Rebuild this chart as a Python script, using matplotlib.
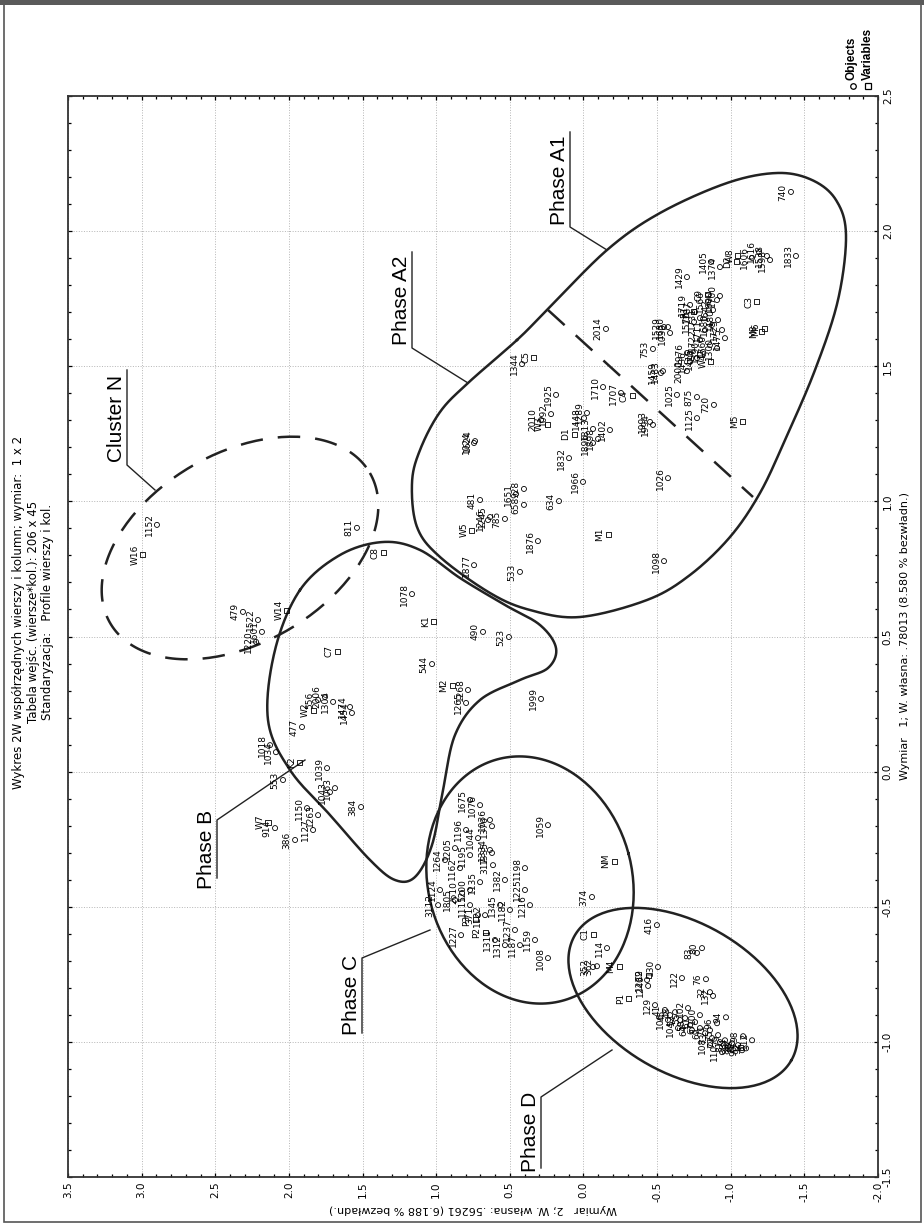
import numpy as np
import matplotlib.pyplot as plt
from matplotlib.lines import Line2D
from matplotlib.patches import Rectangle

# ---- data: objects (rows) ----
obj_labels = ['740', '1833', '1429', '1405', '1374', '1606', '1616', '1538', '1598', '1529',
              '1630', '1030', '753', '1976', '2000', '1719', '1787', '1731', '1600', '1700',
              '1480', '1475', '1300', '1711', '1722', '1760', '1570', '1680', '1390', '1415',
              '1436', '1642', '1566', '1725',
              '1344', '1925', '1092', '2010', '1448', '1289', '1813', '1402', '1896', '1898',
              '1832', '1966', '1710', '1707', '1483', '1459', '1025', '875', '1125', '720',
              '1993', '1994', '2014', '1026', '1098', '1024', '1624', '481', '1246', '1245',
              '785', '928', '1651', '658', '634', '1876', '1877', '533',
              '1152', '811', '479', '1522', '1601', '1220',
              '1078', '490', '523', '544', '1268', '1265', '1999', '556', '2006', '1304',
              '477', '1474', '1454', '1018', '1034', '1039', '553', '1063', '1043', '384',
              '1150', '1263', '914', '386', '1127',
              '1675', '1076', '1036', '1376', '1059', '1196', '1044', '1334', '1335', '1195',
              '1205', '1162', '317', '1198', '1264', '1382', '1135', '1200', '2610', '1124',
              '3112', '1805', '1115', '1345', '1122', '1182', '1237', '1227', '371', '1311',
              '1312', '1008', '374', '1225', '1216', '1187', '1159', '114', '352', '362',
              '416', '80', '83', '130', '1239', '1240', '122', '76', '32', '132', '129',
              '41', '45', '48', '52', '55', '58', '61', '64', '67', '69', '71', '73', '75',
              '77', '79', '81', '84', '86', '88', '90', '92', '94', '96', '98', '100', '102',
              '104', '106', '108', '110', '112']
obj_dim1 = [2.145, 1.908, 1.830, 1.886, 1.867, 1.901, 1.923, 1.908, 1.893, 1.645,
            1.645, 1.623, 1.564, 1.549, 1.482, 1.727, 1.701, 1.678, 1.745, 1.760,
            1.671, 1.604, 1.567, 1.634, 1.597, 1.578, 1.664, 1.653, 1.553, 1.530,
            1.516, 1.708, 1.738, 1.634,
            1.508, 1.394, 1.323, 1.301, 1.308, 1.327, 1.268, 1.264, 1.216, 1.231,
            1.160, 1.072, 1.423, 1.401, 1.482, 1.475, 1.394, 1.386, 1.308, 1.357,
            1.294, 1.283, 1.638, 1.086, 0.779, 1.216, 1.223, 1.005, 0.931, 0.942,
            0.935, 1.046, 1.027, 0.987, 1.001, 0.853, 0.764, 0.739,
            0.913, 0.902, 0.591, 0.561, 0.517, 0.480,
            0.657, 0.517, 0.498, 0.398, 0.302, 0.254, 0.269, 0.265, 0.276, 0.258,
            0.165, 0.239, 0.217, 0.098, 0.072, 0.013, -0.031, -0.061, -0.076, -0.131,
            -0.135, -0.161, -0.209, -0.253, -0.216,
            -0.105, -0.124, -0.179, -0.202, -0.198, -0.216, -0.246, -0.290, -0.301, -0.309,
            -0.283, -0.357, -0.346, -0.357, -0.327, -0.401, -0.409, -0.438, -0.449, -0.438,
            -0.494, -0.475, -0.494, -0.494, -0.531, -0.512, -0.586, -0.605, -0.531, -0.623,
            -0.642, -0.690, -0.464, -0.438, -0.494, -0.642, -0.623, -0.653, -0.723, -0.720,
            -0.568, -0.653, -0.671, -0.723, -0.771, -0.793, -0.764, -0.768, -0.816, -0.830, -0.864,
            -0.882, -0.901, -0.890, -0.919, -0.912, -0.938, -0.927, -0.957, -0.949, -0.968,
            -0.957, -0.986, -0.975, -1.001, -0.994, -1.016, -1.005, -1.024, -1.012, -1.031,
            -1.024, -0.909, -0.931, -0.979, -0.901, -0.875, -0.949, -0.919, -1.012, -1.038, -0.994]
obj_dim2 = [-1.409, -1.443, -0.703, -0.866, -0.927, -1.145, -1.192, -1.246, -1.267, -0.547,
            -0.574, -0.588, -0.472, -0.703, -0.703, -0.724, -0.757, -0.791, -0.907, -0.927,
            -0.914, -0.961, -0.907, -0.826, -0.791, -0.859, -0.751, -0.873, -0.812, -0.771,
            -0.724, -0.880, -0.846, -0.941,
            0.417, 0.186, 0.220, 0.288, -0.004, -0.024, -0.065, -0.180, -0.065, -0.099,
            0.098, 0.003, -0.133, -0.255, -0.540, -0.526, -0.635, -0.771, -0.771, -0.886,
            -0.452, -0.472, -0.153, -0.574, -0.547, 0.743, 0.736, 0.702, 0.648, 0.634,
            0.533, 0.404, 0.458, 0.404, 0.166, 0.309, 0.743, 0.431,
            2.896, 1.538, 2.312, 2.210, 2.183, 2.223,
            1.164, 0.682, 0.506, 1.028, 0.784, 0.797, 0.288, 1.802, 1.755, 1.700,
            1.911, 1.585, 1.572, 2.128, 2.088, 1.741, 2.040, 1.687, 1.721, 1.510,
            1.877, 1.802, 2.094, 1.958, 1.836,
            0.770, 0.702, 0.635, 0.621, 0.241, 0.797, 0.716, 0.635, 0.621, 0.770,
            0.872, 0.838, 0.614, 0.397, 0.940, 0.533, 0.702, 0.770, 0.824, 0.974,
            0.987, 0.872, 0.770, 0.566, 0.668, 0.499, 0.465, 0.831, 0.716, 0.601,
            0.533, 0.241, -0.058, 0.397, 0.363, 0.431, 0.329, -0.160, -0.065, -0.092,
            -0.499, -0.805, -0.771, -0.506, -0.432, -0.439, -0.669, -0.832, -0.859, -0.880, -0.486,
            -0.553, -0.588, -0.622, -0.656, -0.690, -0.724, -0.758, -0.737, -0.791, -0.826,
            -0.859, -0.873, -0.914, -0.927, -0.961, -0.982, -1.009, -1.029, -1.049, -1.077,
            -1.104, -0.968, -0.907, -1.084, -0.791, -0.710, -0.642, -0.574, -0.859, -0.941, -1.145]

# ---- data: variables (columns) ----
var_labels = ['W8', 'D2', 'C3', 'M6', 'M8', 'C9', 'W4', 'D4', 'R1', 'C5', 'W3', 'D1', 'C4',
              'M5', 'M1', 'W5', 'W16', 'W14', 'C8', 'K1', 'C7', 'M2', 'W2', 'K2', 'W7',
              'NM', 'C1', 'M4', 'P2', 'P3', 'P1', 'C2', 'F2']
var_dim1 = [1.908, 1.886, 1.738, 1.638, 1.630, 1.764, 1.519, 1.542, 1.701, 1.534, 1.286, 1.249,
            1.390, 1.297, 0.879, 0.894, 0.802, 0.598, 0.809, 0.557, 0.446, 0.320, 0.228, 0.035,
            -0.187, -0.331, -0.601, -0.720, -0.594, -0.549, -0.838, -0.753, -1.019]
var_dim2 = [-1.049, -1.036, -1.178, -1.226, -1.212, -0.839, -0.866, -0.791, -0.744, 0.336, 0.247,
            0.064, -0.330, -1.083, -0.167, 0.757, 2.991, 2.013, 1.361, 1.015, 1.673, 0.892, 1.836,
            1.925, 2.142, -0.208, -0.065, -0.242, 0.668, 0.736, -0.309, -0.439, -1.063]

title_lines = ['Wykres 2W współrzędnych wierszy i kolumn; wymiar:  1 x 2',
               'Tabela wejśc. (wiersze*kol.): 206 x 45',
               'Standaryzacja:   Profile wierszy i kol.']
xlabel = 'Wymiar   2; W. własna: .56261 (6.188 % bezwładn.)'
ylabel = 'Wymiar   1; W. własna: .78013 (8.580 % bezwładn.)'

W, H = 924, 1224
L, R, T, B = 68, 878, 96, 1177
narrow = ['Liberation Sans Narrow', 'DejaVu Sans']

fig = plt.figure(figsize=(W / 100, H / 100), dpi=100)
ax = fig.add_axes([L / W, 1 - B / H, (R - L) / W, (B - T) / H])
# chart is drawn turned by 90 degrees: dim 2 runs right to left, dim 1 bottom to top
ax.set_xlim(3.5, -2.0)
ax.set_ylim(-1.5, 2.5)


def p2d(x, y):
    # reference pixel position -> data coordinates (for the hand drawn annotations)
    return 3.5 - (x - L) / (R - L) * 5.5, 2.5 - (y - T) / (B - T) * 4.0


def closed_curve(pts, n=40):
    pts = np.asarray(pts, float)
    N = len(pts)
    out = []
    t = np.linspace(0, 1, n, endpoint=False)[:, None]
    for i in range(N):
        p0, p1, p2, p3 = pts[i - 1], pts[i], pts[(i + 1) % N], pts[(i + 2) % N]
        out.append(0.5 * (2 * p1 + (-p0 + p2) * t + (2 * p0 - 5 * p1 + 4 * p2 - p3) * t ** 2
                          + (-p0 + 3 * p1 - 3 * p2 + p3) * t ** 3))
    out = np.vstack(out)
    return np.vstack([out, out[:1]])


def ellipse_px(cx, cy, a, b, ang, n=200):
    t = np.linspace(0, 2 * np.pi, n)
    c, s = np.cos(np.radians(ang)), np.sin(np.radians(ang))
    x = cx + a * np.cos(t) * c - b * np.sin(t) * s
    y = cy + a * np.cos(t) * s + b * np.sin(t) * c
    return np.column_stack([x, y])


def draw_px(pts, **kw):
    d = np.array([p2d(x, y) for x, y in pts])
    ax.plot(d[:, 0], d[:, 1], color='#222222', clip_on=False, **kw)


# ticks and grid
ax.set_xticks(np.arange(-2.0, 3.51, 0.5))
ax.set_yticks(np.arange(-1.5, 2.51, 0.5))
ax.set_xticks(np.arange(-2.0, 3.51, 0.1), minor=True)
ax.set_yticks(np.arange(-1.5, 2.51, 0.1), minor=True)
ax.tick_params(which='both', direction='in', top=True, right=True, left=True, bottom=True,
               labelleft=False, labelright=True, labelbottom=True, width=0.9)
ax.tick_params(which='major', length=3)
ax.tick_params(which='minor', length=2.5)
ax.set_xticklabels([f'{v:.1f}' for v in np.arange(-2.0, 3.51, 0.5)], rotation=90,
                   family=narrow, fontsize=7.5)
ax.set_yticklabels([f'{v:.1f}' for v in np.arange(-1.5, 2.51, 0.5)], rotation=90,
                   family=narrow, fontsize=7.5, va='center')
ax.grid(True, which='major', linestyle=':', color='#b5b5b5', linewidth=0.7)
ax.set_axisbelow(True)
for sp in ax.spines.values():
    sp.set_linewidth(1.3)
    sp.set_color('#333333')

# points
ax.scatter(obj_dim2, obj_dim1, s=13, marker='o', facecolors='none', edgecolors='black',
           linewidths=0.6, zorder=3)
ax.scatter(var_dim2, var_dim1, s=13, marker='s', facecolors='none', edgecolors='black',
           linewidths=0.6, zorder=3)
for lab, d1, d2 in zip(obj_labels + var_labels, obj_dim1 + var_dim1, obj_dim2 + var_dim2):
    ax.annotate(lab, (d2, d1), xytext=(-2.5, 0), textcoords='offset points', rotation=90,
                ha='right', va='center', fontsize=6.5, family=narrow, zorder=4)

# phase outlines
outer_A = [(517, 340), (547, 310), (607, 250), (660, 213), (727, 183), (777, 173), (812, 180),
           (836, 200), (846, 235), (838, 300), (815, 370), (785, 440), (760, 493), (730, 537),
           (690, 575), (647, 600), (580, 617), (530, 610), (490, 593), (440, 557), (417, 527),
           (412, 483), (420, 450), (440, 412), (468, 383)]
draw_px(closed_curve(outer_A), lw=1.8)
draw_px([(548, 310), (753, 497)], lw=1.8, dashes=(9, 6))

outer_B = [(300, 590), (340, 555), (383, 542), (420, 550), (460, 578), (505, 605), (540, 625),
           (556, 648), (548, 668), (520, 680), (480, 700), (455, 735), (443, 790), (432, 845),
           (415, 877), (395, 880), (370, 860), (330, 815), (290, 770), (268, 720), (275, 650)]
draw_px(closed_curve(outer_B), lw=1.8)

draw_px(ellipse_px(530, 880, 102, 125, -15), lw=1.8)
draw_px(ellipse_px(683, 998, 125, 75, 30), lw=1.8)
draw_px(ellipse_px(240, 548, 150, 95, -30), lw=1.8, dashes=(9, 6))

# phase labels with underline and pointer
phase_txt = [('Phase A1', 559, 180, [(570, 132), (570, 227), (607, 250)]),
             ('Phase A2', 401, 300, [(412, 252), (412, 348), (468, 383)]),
             ('Cluster N', 116, 418, [(127, 370), (127, 465), (155, 490)]),
             ('Phase B', 206, 849, [(217, 878), (217, 820), (305, 760)]),
             ('Phase C', 351, 995, [(362, 1033), (362, 958), (430, 930)]),
             ('Phase D', 530, 1132, [(541, 1168), (541, 1097), (612, 1050)])]
for txt, x, y, line in phase_txt:
    ax.text(*p2d(x, y), txt, rotation=90, ha='center', va='center', fontsize=15,
            family=['Liberation Sans', 'DejaVu Sans'], clip_on=False)
    draw_px(line, lw=1.0)

# titles and axis labels
for line, xp in zip(title_lines, [19, 34, 48]):
    fig.text(xp / W, 1 - 612 / H, line, rotation=90, ha='center', va='center',
             fontsize=8.5, family=narrow)
fig.text(473 / W, 1 - 1209 / H, xlabel, rotation=180, ha='center', va='center',
         fontsize=8, family=narrow)
fig.text(905 / W, 1 - 636 / H, ylabel, rotation=90, ha='center', va='center',
         fontsize=8, family=narrow)

# legend
fig.add_artist(Line2D([853 / W], [1 - 86 / H], marker='o', ms=4, mfc='none', mec='black', mew=0.9))
fig.add_artist(Line2D([868 / W], [1 - 86 / H], marker='s', ms=4, mfc='none', mec='black', mew=0.9))
fig.text(852 / W, 1 - 80 / H, 'Objects', rotation=90, ha='center', va='bottom',
         fontsize=8.5, fontweight='bold', family=['Liberation Sans', 'DejaVu Sans'])
fig.text(868 / W, 1 - 80 / H, 'Variables', rotation=90, ha='center', va='bottom',
         fontsize=8.5, fontweight='bold', family=['Liberation Sans', 'DejaVu Sans'])

# window frame
fig.add_artist(Rectangle((4 / W, 2 / H), 917 / W, 1 - 6 / H, transform=fig.transFigure,
                         fill=False, edgecolor='#555555', linewidth=1.2))
fig.add_artist(Rectangle((0, 1 - 5 / H), 1, 5 / H, transform=fig.transFigure,
                         facecolor='#5a5a5a', edgecolor='none'))

fig.savefig('out.png', dpi=100)
